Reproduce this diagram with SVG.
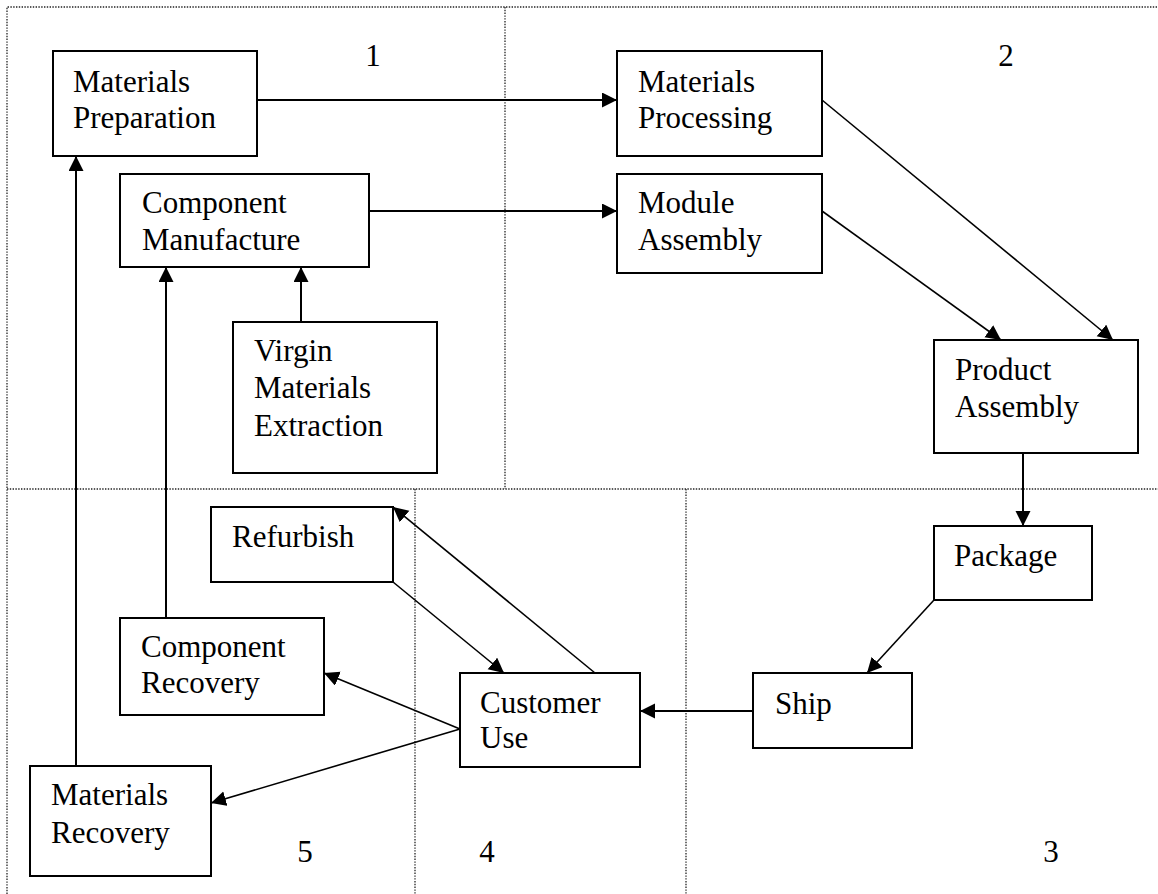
<svg xmlns="http://www.w3.org/2000/svg" width="1158" height="894" viewBox="0 0 1158 894">
  <style>
    .box { fill: #fff; stroke: #000; stroke-width: 2; }
    .lbl { font-family: "Liberation Serif", "Times New Roman", serif; font-size: 31px; fill: #000; }
    .zone { fill: none; stroke: #222; stroke-width: 1.3; stroke-dasharray: 1.4 1.4; }
    .edge { fill: none; stroke: #000; stroke-width: 2; marker-end: url(#arrow); }
    .diag { stroke-width: 1.6; }
    .plain { fill: none; stroke: #000; stroke-width: 2; }
  </style>
  <defs>
    <marker id="arrow" markerUnits="userSpaceOnUse" markerWidth="16" markerHeight="16" refX="15" refY="7.5" orient="auto">
      <path d="M0,0 L15,7.5 L0,15 Z" fill="#000"/>
    </marker>
  </defs>

  <rect width="1158" height="894" fill="#fff"/>

  <!-- lifecycle zones -->
  <g id="zones">
    <path class="zone" d="M7,894 V7 H1158"/>
    <path class="zone" d="M505,7 V489"/>
    <path class="zone" d="M7,489 H1158"/>
    <path class="zone" d="M415,489 V894"/>
    <path class="zone" d="M686,489 V894"/>
    <text class="lbl" x="373" y="66" text-anchor="middle">1</text>
    <text class="lbl" x="1006" y="66" text-anchor="middle">2</text>
    <text class="lbl" x="1051" y="862" text-anchor="middle">3</text>
    <text class="lbl" x="487" y="862" text-anchor="middle">4</text>
    <text class="lbl" x="305" y="862" text-anchor="middle">5</text>
  </g>

  <!-- connectors -->
  <g id="connectors">
    <line class="edge" x1="257" y1="100" x2="617" y2="100"/>
    <line class="edge" x1="369" y1="211" x2="617" y2="211"/>
    <line class="edge diag" x1="822" y1="100" x2="1113" y2="340"/>
    <line class="edge diag" x1="822" y1="211" x2="1001" y2="340"/>
    <line class="edge" x1="1023" y1="453" x2="1023" y2="526"/>
    <line class="edge diag" x1="934" y1="600" x2="867" y2="673"/>
    <line class="edge" x1="753" y1="711" x2="640" y2="711"/>
    <line class="edge diag" x1="595" y1="673" x2="393" y2="507"/>
    <line class="edge diag" x1="393" y1="582" x2="504" y2="673"/>
    <line class="edge diag" x1="460" y1="729" x2="324" y2="673"/>
    <line class="edge diag" x1="460" y1="729" x2="211" y2="803"/>
    <line class="edge" x1="166" y1="618" x2="166" y2="267"/>
    <line class="edge" x1="76" y1="766" x2="76" y2="156"/>
    <line class="edge" x1="301" y1="322" x2="301" y2="267"/>
  </g>

  <!-- nodes -->
  <g id="materials-preparation">
    <rect class="box" x="53" y="51" width="204" height="105"/>
    <text class="lbl" x="73" y="92">Materials</text>
    <text class="lbl" x="73" y="128">Preparation</text>
  </g>
  <g id="component-manufacture">
    <rect class="box" x="120" y="174" width="249" height="93"/>
    <text class="lbl" x="142" y="213">Component</text>
    <text class="lbl" x="142" y="250">Manufacture</text>
  </g>
  <g id="virgin-materials-extraction">
    <rect class="box" x="233" y="322" width="204" height="151"/>
    <text class="lbl" x="254" y="361">Virgin</text>
    <text class="lbl" x="254" y="398">Materials</text>
    <text class="lbl" x="254" y="436">Extraction</text>
  </g>
  <g id="materials-processing">
    <rect class="box" x="617" y="51" width="205" height="105"/>
    <text class="lbl" x="638" y="92">Materials</text>
    <text class="lbl" x="638" y="128">Processing</text>
  </g>
  <g id="module-assembly">
    <rect class="box" x="617" y="174" width="205" height="99"/>
    <text class="lbl" x="638" y="213">Module</text>
    <text class="lbl" x="638" y="250">Assembly</text>
  </g>
  <g id="product-assembly">
    <rect class="box" x="934" y="340" width="204" height="113"/>
    <text class="lbl" x="955" y="380">Product</text>
    <text class="lbl" x="955" y="417">Assembly</text>
  </g>
  <g id="package">
    <rect class="box" x="934" y="526" width="158" height="74"/>
    <text class="lbl" x="954" y="566">Package</text>
  </g>
  <g id="ship">
    <rect class="box" x="753" y="673" width="159" height="75"/>
    <text class="lbl" x="775" y="714">Ship</text>
  </g>
  <g id="customer-use">
    <rect class="box" x="460" y="673" width="180" height="94"/>
    <text class="lbl" x="480" y="713">Customer</text>
    <text class="lbl" x="480" y="748">Use</text>
  </g>
  <g id="refurbish">
    <rect class="box" x="211" y="507" width="182" height="75"/>
    <text class="lbl" x="232" y="547">Refurbish</text>
  </g>
  <g id="component-recovery">
    <rect class="box" x="120" y="618" width="204" height="97"/>
    <text class="lbl" x="141" y="657">Component</text>
    <text class="lbl" x="141" y="693">Recovery</text>
  </g>
  <g id="materials-recovery">
    <rect class="box" x="30" y="766" width="181" height="110"/>
    <text class="lbl" x="51" y="805">Materials</text>
    <text class="lbl" x="51" y="843">Recovery</text>
  </g>
</svg>
